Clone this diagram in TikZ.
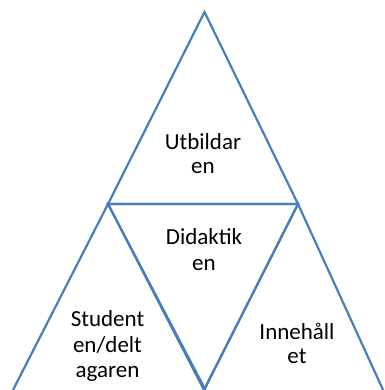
\documentclass[tikz,border=0pt]{standalone}
\usepackage{fontspec}
\setmainfont{Carlito}
\definecolor{edge}{RGB}{74,126,187}
\begin{document}
\begin{tikzpicture}[x=1pt,y=-1pt,
  side/.style={draw=edge,line width=2.2pt,line join=miter},
  lbl/.style={anchor=base,inner sep=0pt,font=\fontsize{23}{25}\selectfont,text=black}]
\useasboundingbox (0,0) rectangle (384,390);
\begin{scope}
\clip (0,0) rectangle (384,390);
\coordinate (apex) at (204.5,12);
\coordinate (bl) at (108,204);
\coordinate (br) at (298,204);
\coordinate (bm) at (204,390);
\coordinate (ll) at (13,390);
\coordinate (rr) at (384,392);
% top triangle
\draw[side] (bl) -- (apex) -- (br) -- cycle;
% middle inverted triangle
\draw[side] (bl) -- (br) -- (bm) -- cycle;
% left triangle
\draw[side] (ll) -- (bl) -- ([xshift=1.5pt]bm);
% right triangle
\draw[side] (bm) -- (br) -- (rr);
\end{scope}
\node[lbl] (u1) at (203,149.3) {Utbildar};
\node[lbl] (u2) at (203,173.3) {en};
\node[lbl] (d1) at (204,244.3) {Didaktik};
\node[lbl] (d2) at (204,270) {en};
\node[lbl] (s1) at (107.5,326.7) {Student};
\node[lbl] (s2) at (107.5,352.5) {en/delt};
\node[lbl] (s3) at (107.5,377.5) {agaren};
\node[lbl] (i1) at (297,339.3) {Innehåll};
\node[lbl] (i2) at (297,363.3) {et};
\end{tikzpicture}
\end{document}
